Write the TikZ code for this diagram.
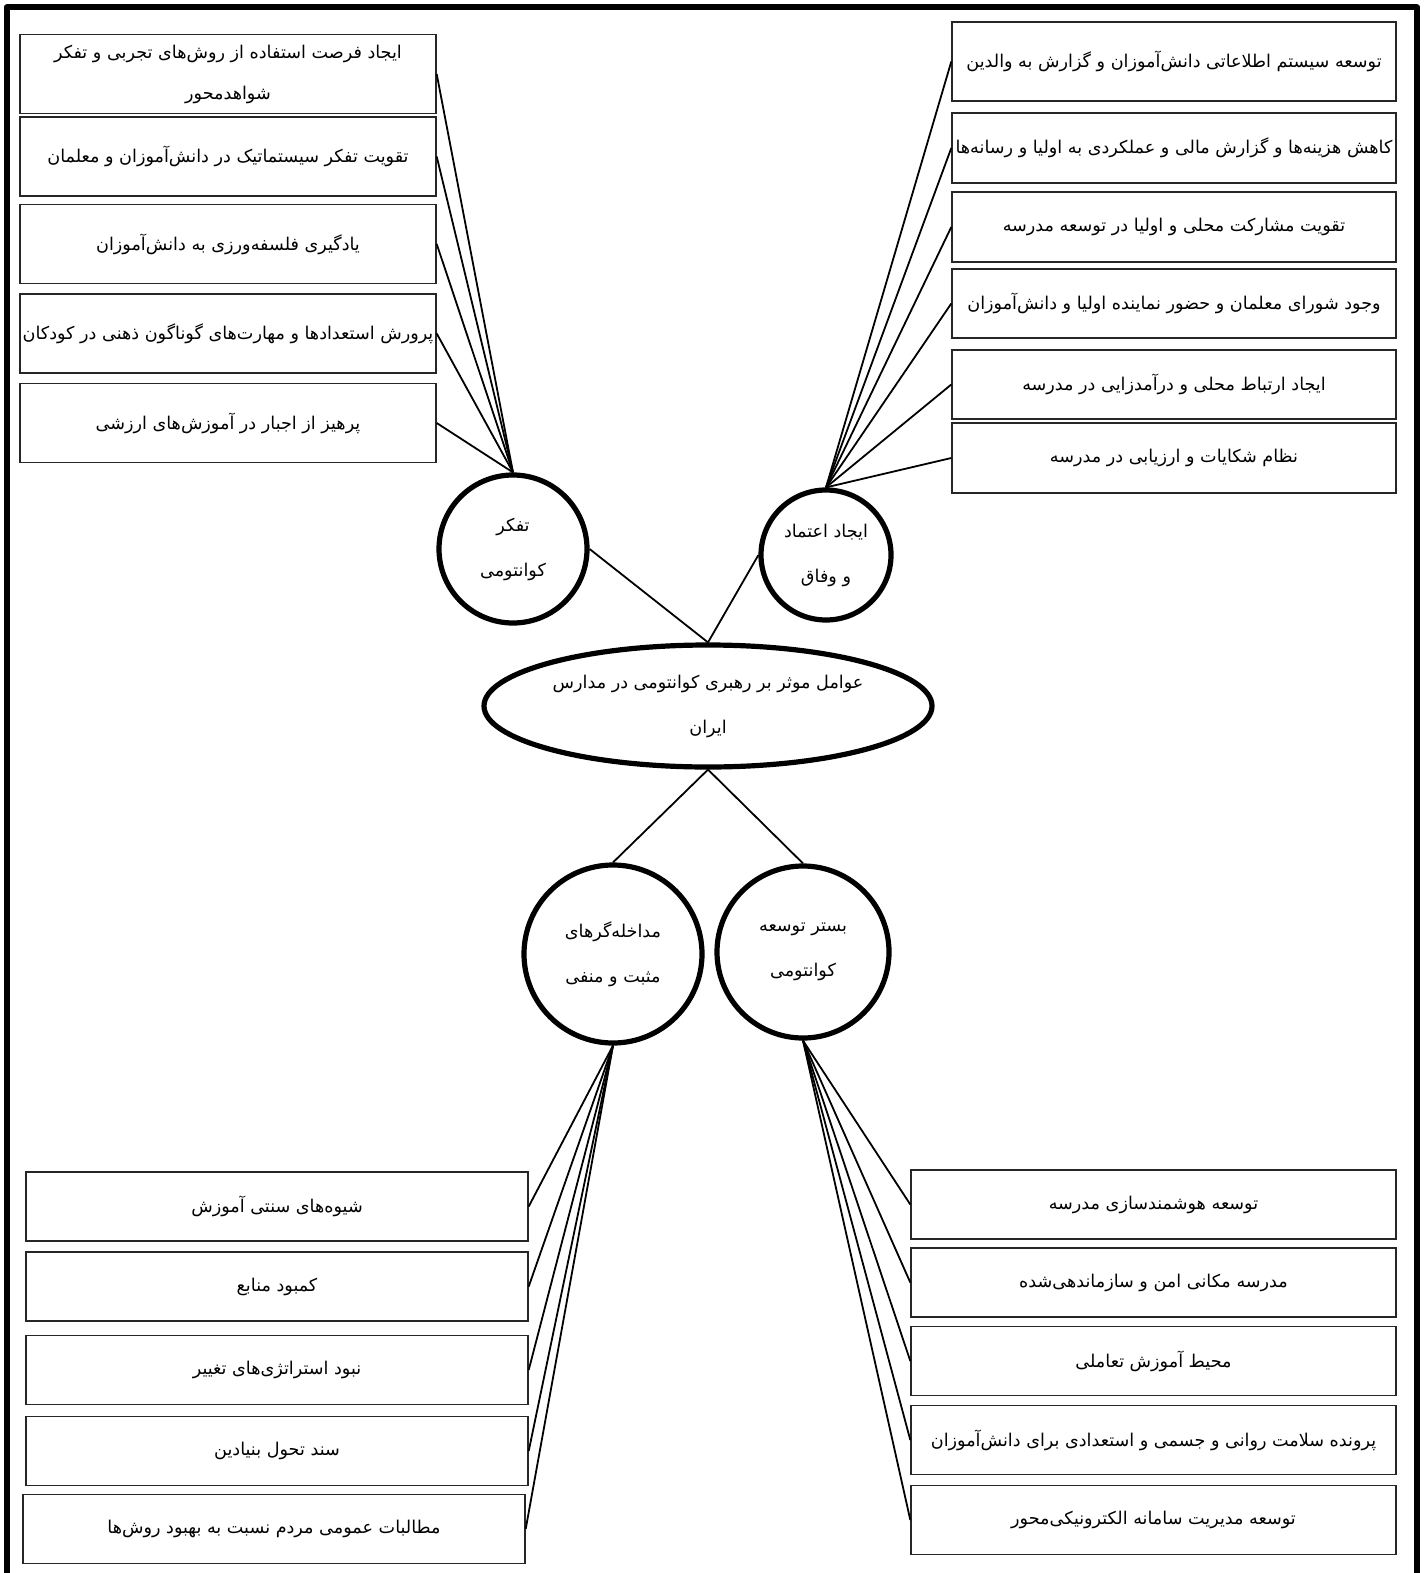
\documentclass[tikz,border=0pt]{standalone}
\usepackage{fontspec}
\TeXXeTstate=1
\newfontfamily\persianfont[Script=Arabic]{DejaVu Sans}
\usetikzlibrary{shapes.geometric}
\newcommand\rtltext[1]{\beginR#1\endR}
\newcommand\ptext{\persianfont\fontsize{8.8}{20.5}\selectfont}
\newcommand\ctext{\persianfont\fontsize{8.8}{22.5}\selectfont}
\begin{document}
\begin{tikzpicture}[x=0.5pt,y=-0.5pt,
  box/.style={draw=black!85, line width=0.7pt, rectangle, inner sep=0pt, align=center, font=\ptext},
  tl/.style={box, minimum width=208pt, minimum height=39.5pt},
  tr/.style={box, minimum width=222pt},
  bl/.style={box, minimum width=251pt, minimum height=34.5pt},
  br/.style={box, minimum width=242.5pt, minimum height=34.5pt},
  circ/.style={draw, circle, line width=2.6pt, inner sep=0pt, align=center, font=\ctext},
  link/.style={line width=0.9pt}]
\useasboundingbox (0,0) rectangle (1424,1573);
\fill[white] (0,0) rectangle (1424,1573);
\draw[line width=3pt, line join=round] (6.5,1573) -- (6.5,7.5) -- (1417,7.5) -- (1417,1573);

% top-left boxes
\node[tl] (a1) at (228,74) {\rtltext{ایجاد فرصت استفاده از روش‌های تجربی و تفکر}\\\rtltext{شواهدمحور}};
\node[tl] (a2) at (228,156.5) {\rtltext{تقویت تفکر سیستماتیک در دانش‌آموزان و معلمان}};
\node[tl] (a3) at (228,244) {\rtltext{یادگیری فلسفه‌ورزی به دانش‌آموزان}};
\node[tl] (a4) at (228,333.5) {\rtltext{پرورش استعدادها و مهارت‌های گوناگون ذهنی در کودکان}};
\node[tl] (a5) at (228,423) {\rtltext{پرهیز از اجبار در آموزش‌های ارزشی}};

% top-right boxes
\node[tr, minimum height=39.5pt] (b1) at (1174,61.5) {\rtltext{توسعه سیستم اطلاعاتی دانش‌آموزان و گزارش به والدین}};
\node[tr, minimum height=35pt] (b2) at (1174,148) {\rtltext{کاهش هزینه‌ها و گزارش مالی و عملکردی به اولیا و رسانه‌ها}};
\node[tr, minimum height=35pt] (b3) at (1174,227) {\rtltext{تقویت مشارکت محلی و اولیا در توسعه مدرسه}};
\node[tr, minimum height=34.5pt] (b4) at (1174,303.5) {\rtltext{وجود شورای معلمان و حضور نماینده اولیا و دانش‌آموزان}};
\node[tr, minimum height=34.5pt] (b5) at (1174,384.5) {\rtltext{ایجاد ارتباط محلی و درآمدزایی در مدرسه}};
\node[tr, minimum height=35pt] (b6) at (1174,458) {\rtltext{نظام شکایات و ارزیابی در مدرسه}};

% circles and ellipse
\node[circ, minimum size=74pt] (c1) at (513,549) {\rtltext{تفکر}\\\rtltext{کوانتومی}};
\node[circ, minimum size=65pt] (c2) at (826,555) {\rtltext{ایجاد اعتماد}\\\rtltext{و وفاق}};
\node[draw, ellipse, line width=2.6pt, inner sep=0pt, minimum width=224pt, minimum height=61pt, align=center, font=\ctext] (ell) at (708,706) {\rtltext{عوامل موثر بر رهبری کوانتومی در مدارس}\\\rtltext{ایران}};
\node[circ, minimum size=89pt] (c3) at (613,954) {\rtltext{مداخله‌گرهای}\\\rtltext{مثبت و منفی}};
\node[circ, minimum size=86pt] (c4) at (803,952) {\rtltext{بستر توسعه}\\\rtltext{کوانتومی}};

% bottom-left boxes
\node[bl] (d1) at (277,1206.5) {\rtltext{شیوه‌های سنتی آموزش}};
\node[bl] (d2) at (277,1286.5) {\rtltext{کمبود منابع}};
\node[bl] (d3) at (277,1370) {\rtltext{نبود استراتژی‌های تغییر}};
\node[bl] (d4) at (277,1451) {\rtltext{سند تحول بنیادین}};
\node[bl] (d5) at (274,1529) {\rtltext{مطالبات عمومی مردم نسبت به بهبود روش‌ها}};

% bottom-right boxes
\node[br] (e1) at (1153.5,1204.5) {\rtltext{توسعه هوشمندسازی مدرسه}};
\node[br] (e2) at (1153.5,1282.5) {\rtltext{مدرسه مکانی امن و سازماندهی‌شده}};
\node[br] (e3) at (1153.5,1361) {\rtltext{محیط آموزش تعاملی}};
\node[br] (e4) at (1153.5,1440) {\rtltext{پرونده سلامت روانی و جسمی و استعدادی برای دانش‌آموزان}};
\node[br] (e5) at (1153.5,1520) {\rtltext{توسعه مدیریت سامانه الکترونیکی‌محور}};

% connectors
\foreach \n in {a1,a2,a3,a4,a5} \draw[link] (\n.east) -- (c1.north);
\foreach \n in {b1,b2,b3,b4,b5,b6} \draw[link] (\n.west) -- (c2.north);
\draw[link] (c1.east) -- (ell.north);
\draw[link] (c2.west) -- (ell.north);
\draw[link] (ell.south) -- (c3.north);
\draw[link] (ell.south) -- (c4.north);
\foreach \n in {d1,d2,d3,d4,d5} \draw[link] (\n.east) -- (c3.south);
\foreach \n in {e1,e2,e3,e4,e5} \draw[link] (\n.west) -- (c4.south);
\end{tikzpicture}
\end{document}
